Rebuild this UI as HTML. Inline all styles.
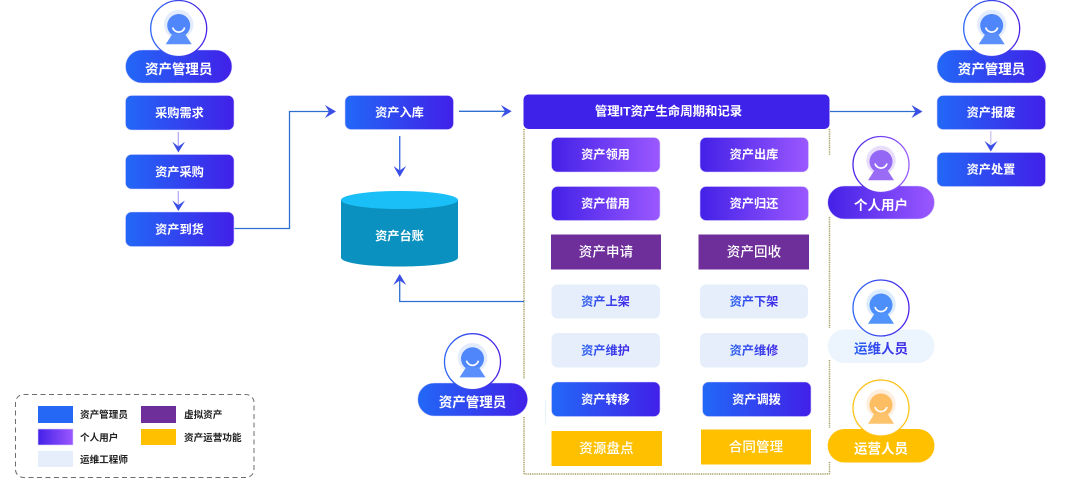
<!DOCTYPE html>
<html lang="zh"><head><meta charset="utf-8"><title>资产管理</title>
<style>
html,body{margin:0;padding:0;background:#fff;width:1080px;height:479px;overflow:hidden}
svg{display:block}
text{font-family:"Liberation Sans","Noto Sans CJK SC",sans-serif;text-anchor:middle;font-weight:700;fill:#fff}
.b{font-size:12.2px}
.p{font-size:13.5px}
.m{font-size:13.5px;font-weight:500;letter-spacing:.1px}
.g{fill:url(#txt)}
.l{font-size:9.6px;fill:#222;text-anchor:start;font-weight:700}
.f{fill:none;stroke:#a39a5c;stroke-width:1.5;stroke-dasharray:1 .8}
.c{fill:none;stroke:#2f6fd0;stroke-width:1.3}
rect[fill="url(#blue)"],rect[fill="url(#vio)"]{stroke:#d6cffb;stroke-width:.6}
</style></head><body>
<svg width="1080" height="479" viewBox="0 0 1080 479" xmlns="http://www.w3.org/2000/svg">
<defs>
<linearGradient id="blue"><stop offset="0" stop-color="#2268f7"/><stop offset="1" stop-color="#4120e8"/></linearGradient>
<linearGradient id="vio"><stop offset="0" stop-color="#4321e7"/><stop offset="1" stop-color="#9b58ff"/></linearGradient>
<linearGradient id="txt"><stop offset="0" stop-color="#2a62f2"/><stop offset="1" stop-color="#4128e6"/></linearGradient>
<linearGradient id="ring"><stop offset="0" stop-color="#2d66f5"/><stop offset="1" stop-color="#4a22e6"/></linearGradient>
<linearGradient id="ringv"><stop offset="0" stop-color="#4a25e8"/><stop offset="1" stop-color="#9b5cff"/></linearGradient>
<g id="av"><circle cy="-4" r="14.7" fill="#e3ecfd"/><circle cy="-3" r="11.5" fill="#4f86fb"/><path d="M-6 5 H6 L13 15.7 H-13 Z" fill="#5b8ffc"/><path d="M-6 -1 A6.2 6.2 0 0 0 6 -1" fill="none" stroke="#fff" stroke-width="1.7"/></g>
<g id="avv"><circle cy="-4" r="14.7" fill="#e8defc"/><circle cy="-3" r="11.5" fill="#9468f4"/><path d="M-6 5 H6 L13 15.7 H-13 Z" fill="#9a6cf5"/><path d="M-6 -1 A6.2 6.2 0 0 0 6 -1" fill="none" stroke="#fff" stroke-width="1.7"/></g>
<g id="avy"><circle cy="-4" r="14.7" fill="#fdeedd"/><circle cy="-3" r="11.5" fill="#fdbd62"/><path d="M-6 5 H6 L13 15.7 H-13 Z" fill="#fdc26c"/><path d="M-6 -1 A6.2 6.2 0 0 0 6 -1" fill="none" stroke="#fff" stroke-width="1.7"/></g>
<g id="avc"><circle cy="-4" r="14.7" fill="#dcecff"/><circle cy="-3" r="11.5" fill="#4c8ffb"/><path d="M-6 5 H6 L13 15.7 H-13 Z" fill="#5094fb"/><path d="M-6 -1 A6.2 6.2 0 0 0 6 -1" fill="none" stroke="#fff" stroke-width="1.7"/></g>
</defs>

<!-- frame -->
<path class="f" d="M524 129V379M524 417V474H829.5M829.5 129V155M829.5 217V328M829.5 360V428M829.5 462V474"/>
<path d="M545.5 400V424" stroke="#e8f3fb" stroke-width="1.2"/>

<!-- connectors -->
<path class="c" d="M234.5 228.5H289.5V111.5H332"/>
<path d="M325 105 L336 111.5 L325 118 L329 111.5Z" fill="#3b4fe6"/>
<path class="c" d="M459 111.3H508"/>
<path d="M501 105 L511.700 111.300 L501 117.500 L505 111.300Z" fill="#3b4fe6"/>
<path class="c" d="M830 111.500H918"/>
<path d="M911.500 105 L922.500 111.500 L911.500 118 L915.500 111.500Z" fill="#3b4fe6"/>
<path d="M399.700 136V171" stroke="#3f6fe0" stroke-width="1.4" fill="none"/>
<path d="M393.500 166 L399.700 170.500 L406.200 166 L399.700 177Z" fill="#3b4fe6"/>
<path class="c" d="M524 301.500H399.700V278"/>
<path d="M393.300 285 L399.700 274 L406.200 285 L399.700 280.500Z" fill="#3b4fe6"/>
<path d="M178.300 132V147" stroke="#b0a4f6" stroke-width="1.2" fill="none"/>
<path d="M172.300 141.700 L178.300 146.500 L185 141.700 L178.300 152.500Z" fill="#3b4fe6"/>
<path d="M178.300 191V206" stroke="#b0a4f6" stroke-width="1.2" fill="none"/>
<path d="M172.300 200.500 L178.300 205 L185 200.500 L178.300 211Z" fill="#3b4fe6"/>
<path d="M990.800 131V146" stroke="#cfc9f5" stroke-width="1.4" fill="none"/>
<path d="M984.500 141 L990.800 145.500 L997.500 141 L990.800 151.500Z" fill="#3b4fe6"/>

<!-- left column -->
<rect x="125.500" y="50" width="106.500" height="33" rx="16.500" fill="url(#blue)"/>
<circle cx="178.700" cy="28.500" r="28" fill="#fff" stroke="url(#ring)" stroke-width="1.300"/>
<use href="#av" x="178.700" y="28.500"/>
<text class="p" x="178.700" y="74">资产管理员</text>
<rect x="125.500" y="95.500" width="108.500" height="34.500" rx="6" fill="url(#blue)"/><text class="b" x="179.500" y="117">采购需求</text>
<rect x="125.500" y="154.500" width="108.500" height="34.500" rx="6" fill="url(#blue)"/><text class="b" x="179.500" y="176">资产采购</text>
<rect x="125.500" y="212" width="108.500" height="34.500" rx="6" fill="url(#blue)"/><text class="b" x="179.500" y="233.500">资产到货</text>

<!-- centre -->
<rect x="345" y="95.500" width="108.500" height="34" rx="6" fill="url(#blue)"/><text class="b" x="399.500" y="116.500">资产入库</text>
<path d="M341 200 V257.500 C341 263 367 266.500 399.500 266.500 S458 263 458 257.500 V200Z" fill="#0a91bf"/>
<ellipse cx="399.500" cy="200" rx="58.500" ry="9" fill="#1bbff8"/>
<text class="b" x="399.500" y="240">资产台账</text>

<!-- top bar -->
<rect x="523.500" y="94.500" width="306" height="34.500" rx="5" fill="#3f22e9"/>
<text class="b" x="668.500" y="115.500" style="font-size:12.400px">管理IT资产生命周期和记录</text>

<!-- grid -->
<rect x="551.500" y="137.500" width="108.500" height="34.500" rx="6" fill="url(#vio)"/><text class="b" x="605.500" y="158.500">资产领用</text>
<rect x="700" y="137.500" width="108.500" height="34.500" rx="6" fill="url(#vio)"/><text class="b" x="754" y="158.500">资产出库</text>
<rect x="551.500" y="186.500" width="108.500" height="34" rx="6" fill="url(#vio)"/><text class="b" x="605.500" y="207.500">资产借用</text>
<rect x="700" y="186.500" width="108.500" height="34" rx="6" fill="url(#vio)"/><text class="b" x="754" y="207.500">资产归还</text>
<rect x="551" y="234.500" width="110" height="35" fill="#6f2f9b"/><text class="m" x="606" y="256.500">资产申请</text>
<rect x="698.500" y="234.500" width="110.500" height="35" fill="#6f2f9b"/><text class="m" x="754" y="256.500">资产回收</text>
<rect x="551.500" y="284.500" width="108.500" height="34" rx="6" fill="#e6eefb"/><text class="b g" x="605.500" y="305.500">资产上架</text>
<rect x="700" y="284.500" width="108" height="34" rx="6" fill="#e6eefb"/><text class="b g" x="754" y="305.500">资产下架</text>
<rect x="551.500" y="333" width="108.500" height="34.500" rx="6" fill="#e6eefb"/><text class="b g" x="605.500" y="354.500">资产维护</text>
<rect x="700" y="333" width="108" height="34.500" rx="6" fill="#e6eefb"/><text class="b g" x="754" y="354.500">资产维修</text>
<rect x="551.500" y="382" width="108.500" height="34.500" rx="6" fill="url(#blue)"/><text class="b" x="605.500" y="403.500">资产转移</text>
<rect x="702.500" y="382" width="108.500" height="34.500" rx="6" fill="url(#blue)"/><text class="b" x="756.500" y="403.500">资产调拨</text>
<rect x="551.500" y="431" width="110.500" height="35" fill="#ffc000"/><text class="m" x="606.500" y="453">资源盘点</text>
<rect x="701" y="429.500" width="110" height="35" fill="#ffc000"/><text class="m" x="756" y="451.500">合同管理</text>

<!-- right column -->
<rect x="937" y="50" width="109" height="33" rx="16.500" fill="url(#blue)"/>
<circle cx="991.700" cy="28.500" r="28" fill="#fff" stroke="url(#ring)" stroke-width="1.300"/>
<use href="#av" x="991.700" y="28.500"/>
<text class="p" x="991.500" y="74">资产管理员</text>
<rect x="937" y="95.500" width="108.500" height="34" rx="6" fill="url(#blue)"/><text class="b" x="991" y="116.500">资产报废</text>
<rect x="937" y="152.500" width="108.500" height="34" rx="6" fill="url(#blue)"/><text class="b" x="991" y="173.500">资产处置</text>

<!-- personal user -->
<rect x="827.700" y="186" width="106.800" height="33" rx="16.500" fill="url(#vio)"/>
<circle cx="881" cy="164.500" r="28" fill="#fff" stroke="url(#ringv)" stroke-width="1.300"/>
<use href="#avv" x="881" y="164.500"/>
<text class="p" x="881" y="210">个人用户</text>

<!-- ops engineer -->
<rect x="827.700" y="329.500" width="106.800" height="33.500" rx="16.700" fill="#ecf5fe"/>
<circle cx="881" cy="308" r="28" fill="#fff" stroke="url(#ring)" stroke-width="1.300"/>
<use href="#avc" x="881" y="308"/>
<text class="p g" x="881" y="353.500">运维人员</text>

<!-- operator -->
<rect x="827.700" y="429" width="106.800" height="33.500" rx="16.700" fill="#ffc000"/>
<circle cx="881" cy="408" r="28" fill="#fff" stroke="#ffc21a" stroke-width="1.300"/>
<use href="#avy" x="881" y="408"/>
<text class="p" x="881" y="453.500">运营人员</text>

<!-- bottom admin -->
<rect x="417.700" y="383" width="110" height="33" rx="16.500" fill="url(#blue)"/>
<circle cx="472.500" cy="361.700" r="28" fill="#fff" stroke="url(#ring)" stroke-width="1.300"/>
<use href="#av" x="472.500" y="361.700"/>
<text class="p" x="472.500" y="407">资产管理员</text>

<!-- legend -->
<rect x="15.500" y="394.500" width="238.500" height="83" rx="8" fill="#fff" stroke="#6e6e6e" stroke-width="1" stroke-dasharray="5 3.500"/>
<rect x="38" y="406" width="35" height="17" fill="#2468f5"/>
<rect x="38" y="429" width="35" height="16" fill="url(#vio)"/>
<rect x="38" y="451" width="35" height="16" fill="#e6eefb"/>
<rect x="141" y="406" width="35" height="17" fill="#6f2f9b"/>
<rect x="141" y="429" width="35" height="16" fill="#ffc000"/>
<text class="l" x="80" y="418">资产管理员</text>
<text class="l" x="80" y="441">个人用户</text>
<text class="l" x="80" y="463">运维工程师</text>
<text class="l" x="184" y="418">虚拟资产</text>
<text class="l" x="184" y="441">资产运营功能</text>
</svg>
</body></html>
